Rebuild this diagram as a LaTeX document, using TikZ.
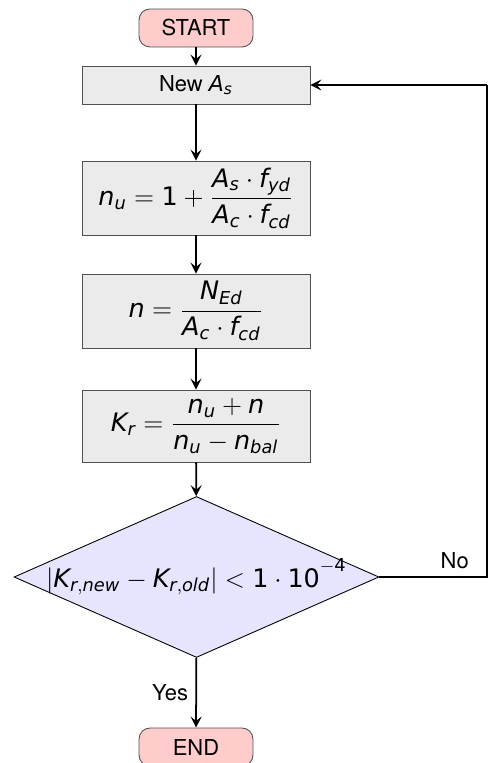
\documentclass[tikz,border=0pt]{standalone}
\usepackage{amsmath}
\usepackage{mathspec}
\setmainfont{TeX Gyre Heros}
\setmathsfont(Digits,Latin,Greek){DejaVu Sans}
\usetikzlibrary{arrows.meta,shapes.geometric,positioning}

\definecolor{termfill}{RGB}{255,204,204}
\definecolor{procfill}{RGB}{235,235,235}
\definecolor{decfill}{RGB}{229,229,255}
\definecolor{edgegray}{RGB}{80,80,80}

\tikzset{
  termbox/.style={rectangle,rounded corners=5pt,draw=edgegray,fill=termfill,minimum width=1.824cm,minimum height=0.608cm,inner sep=2pt},
  procbox/.style={rectangle,draw=edgegray,fill=procfill,minimum width=3.648cm,inner sep=2pt},
  mathtext/.style={font=\fontsize{11.6pt}{14pt}\selectfont},
  decbox/.style={diamond,draw=black,fill=decfill,shape aspect=2.27,minimum width=5.84cm,minimum height=2.576cm,inner xsep=0pt,inner ysep=-4pt,mathtext},
  flowarrow/.style={-{Stealth[length=5pt,width=5pt,inset=2pt]},thick}
}

\begin{document}
\begin{tikzpicture}[x=0.016cm,y=-0.016cm]
      \useasboundingbox (0,0) rectangle (488,763);

      % Main chain
      \node[termbox] (start) at (196,28) {START};
      \node[procbox,minimum height=0.608cm] (newas) at (196,85) {New $A_s$};
      \node[procbox,mathtext,minimum height=1.184cm] (nu) at (196,198) {$n_u = 1 + \dfrac{A_s \cdot f_{yd}}{A_c \cdot f_{cd}}$};
      \node[procbox,mathtext,minimum height=1.184cm] (n) at (196,311) {$n = \dfrac{N_{Ed}}{A_c \cdot f_{cd}}$};
      \node[procbox,mathtext,minimum height=1.152cm] (kr) at (196,426) {$K_r = \dfrac{n_u + n}{n_u - n_{bal}}$};
      \node[decbox] (check) at (196.5,577) {$|K_{r,new} - K_{r,old}| < 1 \cdot 10^{-4}$};
      \node[termbox] (stop) at (196,747) {END};

      \draw[flowarrow] (start) -- (newas);
      \draw[flowarrow] (newas) -- (nu);
      \draw[flowarrow] (nu) -- (n);
      \draw[flowarrow] (n) -- (kr);
      \draw[flowarrow] (kr) -- (check);
      \draw[flowarrow] (check) -- node[left] {Yes} (stop);

      % Loop back
      \coordinate (loopdown) at (487,577);
      \coordinate (loopup) at (487,85);
      \draw[thick] (check.east) -- node[above,pos=0.7] {No} (loopdown) -- (loopup);
      \draw[flowarrow] (loopup) -- (newas.east);
    \end{tikzpicture}
\end{document}
